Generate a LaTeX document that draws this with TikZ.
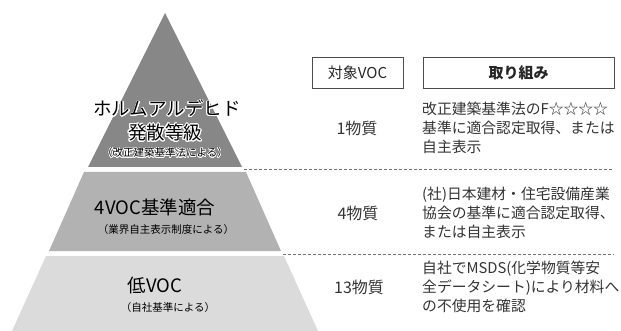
\documentclass[tikz,border=0pt]{standalone}
\usepackage{fontspec}
\usepackage{contour}
\newfontfamily\jp{Noto Sans CJK JP}
\usetikzlibrary{positioning}
\contourlength{0.8pt}
\contournumber{24}

\tikzset{
  band/.style={draw=none},
  sep/.style={draw=black!55, line width=1pt, dash pattern=on 3pt off 2pt},
  headbox/.style={draw=black!70, line width=0.8pt, inner sep=0pt, font=\jp\fontsize{15}{16}\selectfont, text=black!85},
  count/.style={font=\jp\fontsize{16}{19}\selectfont, text=black!80},
  action/.style={font=\jp\fontsize{14.8}{19}\selectfont, text=black!80, align=left, anchor=west, inner sep=0pt},
  title/.style={font=\jp\fontsize{18.5}{20}\selectfont, text=black, inner sep=0pt},
  note/.style={font=\jp\fontsize{10.5}{12}\selectfont, text=black, inner sep=0pt}
}

\begin{document}
\begin{tikzpicture}[x=1pt,y=-1pt]
	\useasboundingbox (0,0) rectangle (621,331);

	% pyramid
	\fill[band, black!47] (165,13) -- (242,167) -- (88,167) -- cycle;
	\fill[band, black!30] (84,172) -- (246,172) -- (281,251) -- (49,251) -- cycle;
	\fill[band, black!14] (46,256) -- (284,256) -- (318,331) -- (12,331) -- cycle;

	\node[title] (hcho) at (167,109) {\contour{white}{ホルムアルデヒド}};
	\node[title] (hchograde) at (165,133) {\contour{white}{発散等級}};
	\node[note] (hchonote) at (165,153) {\contourlength{0.6pt}\contour{white}{（改正建築基準法による）}};

	\node[title] (fourvoc) at (155,207) {4VOC基準適合};
	\node[note] (fourvocnote) at (166,230) {（業界自主表示制度による）};

	\node[title] (lowvoc) at (155,285) {低VOC};
	\node[note] (lowvocnote) at (168,308) {（自社基準による）};

	% headers
	\node[headbox, minimum width=91pt, minimum height=31pt] (hvoc) at (357.5,72.5) {対象VOC};
	\node[headbox, minimum width=191pt, minimum height=31pt] (hact) at (518.5,72.5) {\bfseries 取り組み};

	% rows
	\node[count] (c1) at (357,128) {1物質};
	\node[action] (a1) at (422,128) {改正建築基準法のF☆☆☆☆\\基準に適合認定取得、または\\自主表示};

	\node[count] (c2) at (358,213) {4物質};
	\node[action] (a2) at (422,213) {(社)日本建材・住宅設備産業\\協会の基準に適合認定取得、\\または自主表示};

	\node[count] (c3) at (359,287) {13物質};
	\node[action] (a3) at (422,287) {自社でMSDS(化学物質等安\\全データシート)により材料へ\\の不使用を確認};

	% separators
	\coordinate (s1a) at (244,170);
	\coordinate (s1b) at (614,170);
	\coordinate (s2a) at (283,254);
	\coordinate (s2b) at (614,254);
	\draw[sep] (s1a) -- (s1b);
	\draw[sep] (s2a) -- (s2b);
\end{tikzpicture}
\end{document}
